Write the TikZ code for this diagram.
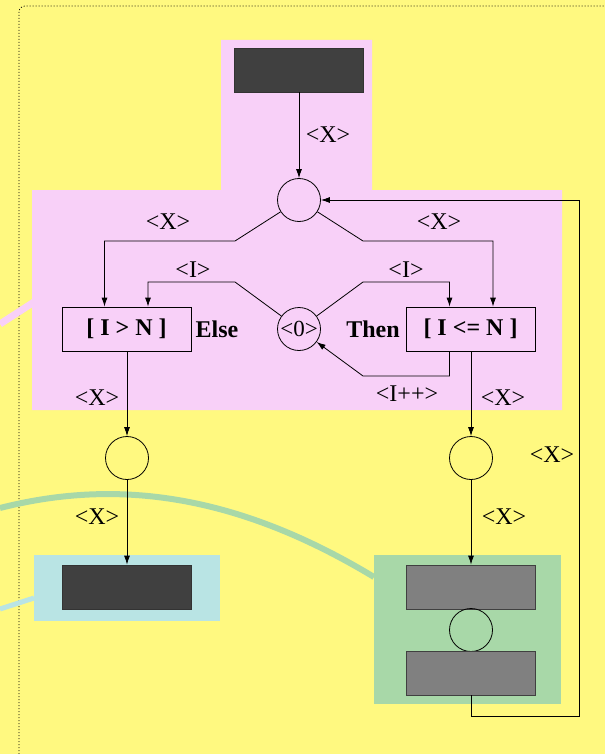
\documentclass[tikz,border=0pt]{standalone}
\usepackage{fontspec}
\setmainfont{Liberation Serif}
\usetikzlibrary{arrows.meta}
\definecolor{bgyellow}{RGB}{255,249,128}
\definecolor{regpink}{RGB}{248,208,248}
\definecolor{regcyan}{RGB}{185,228,228}
\definecolor{reggreen}{RGB}{168,216,168}
\definecolor{boxdark}{RGB}{64,64,64}
\definecolor{boxgray}{RGB}{128,128,128}
\tikzset{
  arr/.style={draw=black,line width=0.8pt,-{Latex[length=9pt,width=6pt]}},
  wire/.style={draw=black,line width=0.8pt},
  lbl/.style={font=\fontsize{24}{28}\selectfont,inner sep=0pt},
  blbl/.style={font=\fontsize{24}{28}\selectfont\bfseries,inner sep=0pt},
  darkbox/.style={draw=black!80,fill=boxdark,line width=0.8pt,minimum width=129pt,minimum height=44pt,inner sep=0pt},
  graybox/.style={draw=black!75,fill=boxgray,line width=0.8pt,minimum width=129pt,minimum height=44pt,inner sep=0pt},
  testbox/.style={draw=black,line width=0.8pt,minimum width=129pt,minimum height=44pt,inner sep=0pt,font=\fontsize{24}{28}\selectfont\bfseries},
  place/.style={circle,draw=black,line width=0.8pt,minimum size=43pt,inner sep=0pt,font=\fontsize{23}{27}\selectfont}
}
\begin{document}
\begin{tikzpicture}[x=1pt,y=-1pt]
\useasboundingbox (0,0) rectangle (605,754);
% background and regions
\fill[bgyellow] (0,0) rectangle (605,754);
\draw[black,line width=0.8pt,dash pattern=on 1pt off 2pt,rounded corners=6pt] (19,754) -- (19,6) -- (605,6);
\draw[regpink,line width=7pt] (0,324) -- (34,302);
\fill[regpink] (221,40) -- (372,40) -- (372,190) -- (562,190) -- (562,410) -- (32,410) -- (32,190) -- (221,190) -- cycle;
\draw[reggreen,line width=6pt] (0,508) .. controls (110,480) and (230,490) .. (374,577);
\draw[regcyan,line width=5pt] (0,609) -- (34,598);
\fill[regcyan] (34,555) rectangle (220,621);
\fill[reggreen] (374,555) rectangle (561,704);

% nodes
\node[darkbox] (src) at (299,70) {};
\node[place] (c1) at (299,200) {};
\node[testbox] (lbox) at (126.5,329) {[ I > N ]};
\node[testbox] (rbox) at (470.5,329) {[ I <= N ]};
\node[place] (zero) at (299,329) {<0>};
\node[place] (c2) at (127,458) {};
\node[place] (c3) at (471,458) {};
\node[darkbox] (sink) at (127,587) {};
\node[graybox] (g1) at (471,587) {};
\node[place] (c4) at (471,630) {};
\node[graybox] (g2) at (471,673) {};

% connectors
\draw[arr] (src) -- (c1);
\draw[arr] (c1) -- (235,241) -| ([xshift=-22pt]lbox.north);
\draw[arr] (c1) -- (363,241) -| ([xshift=22.5pt]rbox.north);
\draw[arr] (zero) -- (235,282) -| ([xshift=21.5pt]lbox.north);
\draw[arr] (zero) -- (363,282) -| ([xshift=-21pt]rbox.north);
\draw[arr] ([xshift=-21pt]rbox.south) |- (363,376) -- (zero);
\draw[arr] (lbox.south -| c2) -- (c2);
\draw[arr] (rbox.south -| c3) -- (c3);
\draw[arr] (c2) -- (sink);
\draw[arr] (c3) -- (g1);
\draw[arr] (g2.south) -- (471,716) -| (579,200) -- (c1);

% labels
\node[lbl] (lx0) at (328,135) {<X>};
\node[lbl] (lx1) at (168,222) {<X>};
\node[lbl] (lx2) at (439,222) {<X>};
\node[lbl] (li1) at (193,270) {<I>};
\node[lbl] (li2) at (406,270) {<I>};
\node[blbl] (else) at (217,329) {Else};
\node[blbl] (then) at (373,329) {Then};
\node[lbl] (linc) at (407,394) {<I++>};
\node[lbl] (lx3) at (97,398) {<X>};
\node[lbl] (lx4) at (503,398) {<X>};
\node[lbl] (lx5) at (97,517) {<X>};
\node[lbl] (lx6) at (504,517) {<X>};
\node[lbl] (lx7) at (552,455) {<X>};
\end{tikzpicture}
\end{document}
